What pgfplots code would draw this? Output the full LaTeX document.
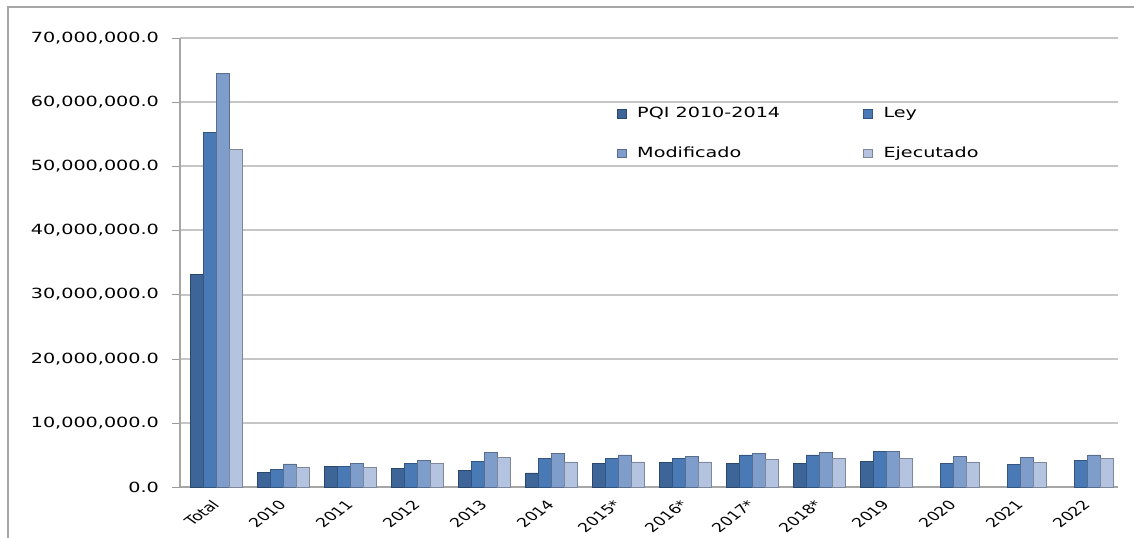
\documentclass[border=0pt]{standalone}
\usepackage{graphicx}
\usepackage{fontspec}
\setmainfont{DejaVu Sans}
\usepackage{pgfplots}
\usepackage{pgfplotstable}
\pgfplotsset{compat=1.18}
\newcommand\hs[1]{\scalebox{1.37}[1]{#1}}
\definecolor{cPQI}{HTML}{3D6597}
\definecolor{cLey}{HTML}{4A7AB5}
\definecolor{cMod}{HTML}{7F9DCB}
\definecolor{cEje}{HTML}{B4C3E0}
\pgfplotstableread{
x  pqi       ley       mod       eje
0  33200000  55300000  64500000  52600000
1  2300000   2800000   3600000   3100000
2  3200000   3200000   3700000   3100000
3  2900000   3700000   4200000   3700000
4  2600000   4000000   5400000   4600000
5  2200000   4400000   5300000   3900000
6  3700000   4400000   5000000   3900000
7  3800000   4400000   4800000   3900000
8  3700000   5000000   5300000   4300000
9  3700000   5000000   5400000   4400000
10 4000000   5500000   5500000   4500000
11 nan       3700000   4800000   3900000
12 nan       3500000   4600000   3800000
13 nan       4200000   5000000   4400000
}\datatable
\begin{document}
\begin{tikzpicture}
\path[use as bounding box] (-90pt,-25pt) rectangle (477pt,243.5pt);
\draw[gray!70, line width=0.6pt] (-86pt,-30pt) -- (-86pt,240pt) -- (480pt,240pt);
\begin{axis}[
  at={(0,0)}, anchor=south west,
  scale only axis, width=469pt, height=224.5pt,
  ybar=0pt, bar width=6.5pt,
  xmin=-0.5, xmax=13.5, ymin=0, ymax=70000000,
  xtick={0,...,13},
  xticklabels={Total,2010,2011,2012,2013,2014,2015*,2016*,2017*,2018*,2019,2020,2021,2022},
  major x tick style={draw=none},
  extra x ticks={-0.5,0.5,...,13.5},
  extra x tick labels={},
  extra x tick style={major tick length=3pt, tick style={draw=gray!80}, tick align=outside, grid=none},
  xticklabel style={xscale=1.37, rotate=46, anchor=north east, inner sep=1pt, font=\fontsize{6.3}{7.5}\selectfont, xshift=-1pt, yshift=0.5pt},
  ytick={0,10000000,...,70000000},
  scaled y ticks=false,
  yticklabel={\hs{\pgfmathprintnumber[fixed, fixed zerofill, precision=1, 1000 sep={,}, assume math mode=true]{\tick}}},
  yticklabel style={font=\fontsize{7}{8}\selectfont, xshift=-3pt},
  ytick align=outside, major tick length=4pt,
  ytick style={draw=gray!80},
  ymajorgrids, grid style={draw=gray!45, line width=1pt},
  axis x line*=bottom, axis y line*=left,
  axis line style={draw=gray!70, line width=0.8pt},
  legend columns=2,
  legend cell align=left,
  legend style={draw=none, fill=none, at={(0.459,0.865)}, anchor=north west,
    font=\fontsize{7}{8}\selectfont, row sep=9pt,
    /tikz/every even column/.append style={column sep=39.5pt}},
  legend image code/.code={\fill[#1] (0pt,-2.2pt) rectangle (4.4pt,2.2pt); \path[draw=none,fill=none] (0pt,0pt) -- (8pt,0pt);},
]
\addplot[fill=cPQI, draw=cPQI!70!black, line width=0.3pt, xshift=1.5pt] table[x=x,y=pqi] {\datatable};
\addplot[fill=cLey, draw=cLey!70!black, line width=0.3pt, xshift=1.5pt] table[x=x,y=ley] {\datatable};
\addplot[fill=cMod, draw=cMod!70!black, line width=0.3pt, xshift=1.5pt] table[x=x,y=mod] {\datatable};
\addplot[fill=cEje, draw=cEje!70!black, line width=0.3pt, xshift=1.5pt] table[x=x,y=eje] {\datatable};
\legend{\hs{PQI 2010-2014},\hs{Ley},\hs{Modificado},\hs{Ejecutado}}
\end{axis}
\end{tikzpicture}
\end{document}
